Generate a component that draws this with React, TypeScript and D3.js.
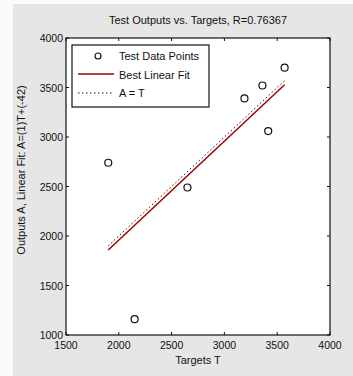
import React from "react";
import * as d3 from "d3";

// test targets (T) and network outputs (A)
const targets = [1900, 2150, 2650, 3190, 3360, 3415, 3570];
const outputs = [2740, 1160, 2490, 3390, 3520, 3060, 3700];
const fitSlope = 1;
const fitIntercept = -42;
const xTicks = [1500, 2000, 2500, 3000, 3500, 4000];
const yTicks = [1000, 1500, 2000, 2500, 3000, 3500, 4000];
const legendLabels = ["Test Data Points", "Best Linear Fit", "A = T"];

const W = 353, H = 376;
const margin = { top: 38, right: 23, bottom: 41, left: 66 };
const font = "'Liberation Sans', Arial, sans-serif";

export default function App() {
  const width = W - margin.left - margin.right;
  const height = H - margin.top - margin.bottom;
  const x = d3.scaleLinear().domain([1500, 4000]).range([0, width]);
  const y = d3.scaleLinear().domain([1000, 4000]).range([height, 0]);

  const tMin = d3.min(targets) as number;
  const tMax = d3.max(targets) as number;
  const line = d3.line<number[]>().x(d => x(d[0])).y(d => y(d[1]));
  const fit = line([[tMin, fitSlope * tMin + fitIntercept], [tMax, fitSlope * tMax + fitIntercept]]) || "";
  const ident = line([[tMin, tMin], [tMax, tMax]]) || "";

  const tk = 3;
  return (
    <svg width={W} height={H} style={{ position: "absolute", left: 0, top: 0 }}>
      <rect x={0} y={0} width={W} height={H} fill="#fafafa" />
      <rect x={13} y={4} width={W - 13} height={H - 4} fill="#e6e6e6" />
      <text x={198} y={24} textAnchor="middle" fontFamily={font} fontSize={11} fill="#111">
        Test Outputs vs. Targets, R=0.76367
      </text>
      <g transform={`translate(${margin.left},${margin.top})`}>
        <rect x={0} y={0} width={width} height={height} fill="#fff" stroke="#111" strokeWidth={1.2} />
        {xTicks.map(t => (
          <g key={"x" + t}>
            <line x1={x(t)} x2={x(t)} y1={height} y2={height - tk} stroke="#111" />
            <line x1={x(t)} x2={x(t)} y1={0} y2={tk} stroke="#111" />
            <text x={x(t)} y={height + 14} textAnchor="middle" fontFamily={font} fontSize={10.5} fill="#111">{t}</text>
          </g>
        ))}
        {yTicks.map(t => (
          <g key={"y" + t}>
            <line x1={0} x2={tk} y1={y(t)} y2={y(t)} stroke="#111" />
            <line x1={width} x2={width - tk} y1={y(t)} y2={y(t)} stroke="#111" />
            <text x={-3} y={y(t) + 4} textAnchor="end" fontFamily={font} fontSize={10.5} fill="#111">{t}</text>
          </g>
        ))}
        <path d={fit} stroke="#a00000" strokeWidth={1.5} fill="none" />
        <path d={ident} stroke="#111" strokeWidth={1} strokeDasharray="1.5 2.5" fill="none" />
        {targets.map((t, i) => (
          <circle key={i} cx={x(t)} cy={y(outputs[i])} r={3.5} fill="none" stroke="#111" strokeWidth={1.2} />
        ))}
      </g>
      <g transform="translate(72,45)">
        <rect x={0} y={0} width={137} height={62} fill="#fff" stroke="#111" strokeWidth={1.2} />
        <circle cx={26} cy={11} r={3} fill="none" stroke="#111" strokeWidth={1.2} />
        <line x1={6} x2={42} y1={29} y2={29} stroke="#a00000" strokeWidth={1.5} />
        <line x1={6} x2={42} y1={48} y2={48} stroke="#111" strokeDasharray="1.5 2.5" />
        {legendLabels.map((l, i) => (
          <text key={l} x={47} y={15 + i * 18.5} fontFamily={font} fontSize={11} fill="#111">{l}</text>
        ))}
      </g>
      <text transform="translate(25,170) rotate(-90)" textAnchor="middle" fontFamily={font} fontSize={11} fill="#111">
        Outputs A,  Linear Fit: A=(1)T+(-42)
      </text>
      <text x={198} y={364} textAnchor="middle" fontFamily={font} fontSize={11} fill="#111">Targets T</text>
    </svg>
  );
}
